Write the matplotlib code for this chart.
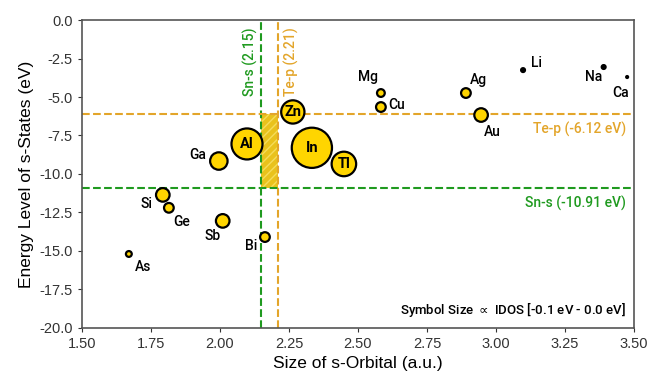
import matplotlib.pyplot as plt
import numpy as np

# element data
elements = ['As', 'Si', 'Ge', 'Sb', 'Bi', 'Ga', 'Al', 'Zn', 'In', 'Tl',
            'Mg', 'Cu', 'Ag', 'Au', 'Li', 'Na', 'Ca']
s_size = [1.67, 1.793, 1.815, 2.01, 2.163, 1.996, 2.098, 2.264, 2.333, 2.449,
          2.583, 2.583, 2.891, 2.946, 3.098, 3.39, 3.475]
s_level = [-15.2, -11.36, -12.2, -13.05, -14.1, -9.16, -8.05, -5.97, -8.3, -9.35,
           -4.74, -5.65, -4.74, -6.17, -3.25, -3.05, -3.7]
idos = [0.09, 0.49, 0.25, 0.49, 0.25, 0.81, 2.56, 1.44, 4.3, 1.6,
        0.16, 0.25, 0.25, 0.49, 0.04, 0.04, 0.01]

sn_s_size, te_p_size = 2.15, 2.21
te_p_level, sn_s_level = -6.12, -10.91

inside = {'Al', 'Zn', 'In', 'Tl'}
# label offsets in pixels (dx, dy down)
offs = {'As': (14, 13), 'Si': (-16, 9), 'Ge': (13, 14), 'Sb': (-10, 15),
        'Bi': (-14, 9), 'Ga': (-21, -6), 'Mg': (-13, -16), 'Cu': (16, -2),
        'Ag': (13, -13), 'Au': (11, 17), 'Li': (13, -7), 'Na': (-10, 10),
        'Ca': (-7, 16)}

green = '#1f9a1f'
orange = '#e3a52a'
gold = '#ffd500'
lab_font = 'Roboto'

fig = plt.figure(figsize=(6.66, 3.79), dpi=100)
ax = fig.add_axes([0.123, 0.135, 0.829, 0.812])

# shaded window between Sn-s and Te-p
ax.fill_between([sn_s_size, te_p_size], sn_s_level, te_p_level,
                facecolor='#e9c21c', edgecolor='#f5dc5a', hatch='////',
                linewidth=0, zorder=1)

ax.axvline(sn_s_size, color=green, ls='--', lw=1.5, zorder=2)
ax.axvline(te_p_size, color=orange, ls='--', lw=1.5, zorder=2)
ax.axhline(te_p_level, color=orange, ls='--', lw=1.5, zorder=2)
ax.axhline(sn_s_level, color=green, ls='--', lw=1.5, zorder=2)

sizes = np.array(idos) * 195
cols = ['black' if e in ('Li', 'Na') else gold for e in elements]
ax.scatter(s_size, s_level, s=sizes, c=cols, edgecolors='black',
           linewidths=1.6, zorder=3)

for e, x, y in zip(elements, s_size, s_level):
    if e in inside:
        ax.text(x, y, e, ha='center', va='center', fontsize=10.5,
                fontweight='bold', family=lab_font, zorder=4)
    else:
        dx, dy = offs[e]
        ax.annotate(e, (x, y), xytext=(dx * 0.72, -dy * 0.72),
                    textcoords='offset points', ha='center', va='center',
                    fontsize=10, fontweight='medium', family=lab_font, zorder=4)

ax.text(sn_s_size - 0.012, -0.45, 'Sn-s (2.15)', rotation=90, color=green,
        ha='right', va='top', fontsize=10, fontweight='medium', family=lab_font)
ax.text(te_p_size + 0.022, -0.45, 'Te-p (2.21)', rotation=90, color=orange,
        ha='left', va='top', fontsize=10, fontweight='medium', family=lab_font)
ax.text(3.47, te_p_level - 0.5, 'Te-p (-6.12 eV)', color=orange,
        ha='right', va='top', fontsize=10, fontweight='medium', family=lab_font)
ax.text(3.47, sn_s_level - 0.5, 'Sn-s (-10.91 eV)', color=green,
        ha='right', va='top', fontsize=10, fontweight='medium', family=lab_font)
ax.text(3.47, -18.8, 'Symbol Size $\\propto$ IDOS [-0.1 eV - 0.0 eV]',
        ha='right', va='center', fontsize=9.5, fontweight='medium', family=lab_font)

ax.set_xlim(1.5, 3.5)
ax.set_ylim(-20, 0)
ax.set_xticks(np.arange(1.5, 3.51, 0.25))
ax.set_yticks(np.arange(-20, 0.1, 2.5))
ax.xaxis.set_major_formatter(plt.FormatStrFormatter('%.2f'))
ax.yaxis.set_major_formatter(plt.FormatStrFormatter('%.1f'))
ax.tick_params(labelsize=10.5, colors='#333333', length=3)
for lab in ax.get_xticklabels() + ax.get_yticklabels():
    lab.set_family('Liberation Sans')
for sp in ax.spines.values():
    sp.set_color('#555555')
    sp.set_linewidth(1.2)

ax.set_xlabel('Size of s-Orbital (a.u.)', fontsize=12.5, family='Liberation Sans')
ax.set_ylabel('Energy Level of s-States (eV)', fontsize=12.5, family='Liberation Sans')

fig.savefig('out.png', dpi=100)
